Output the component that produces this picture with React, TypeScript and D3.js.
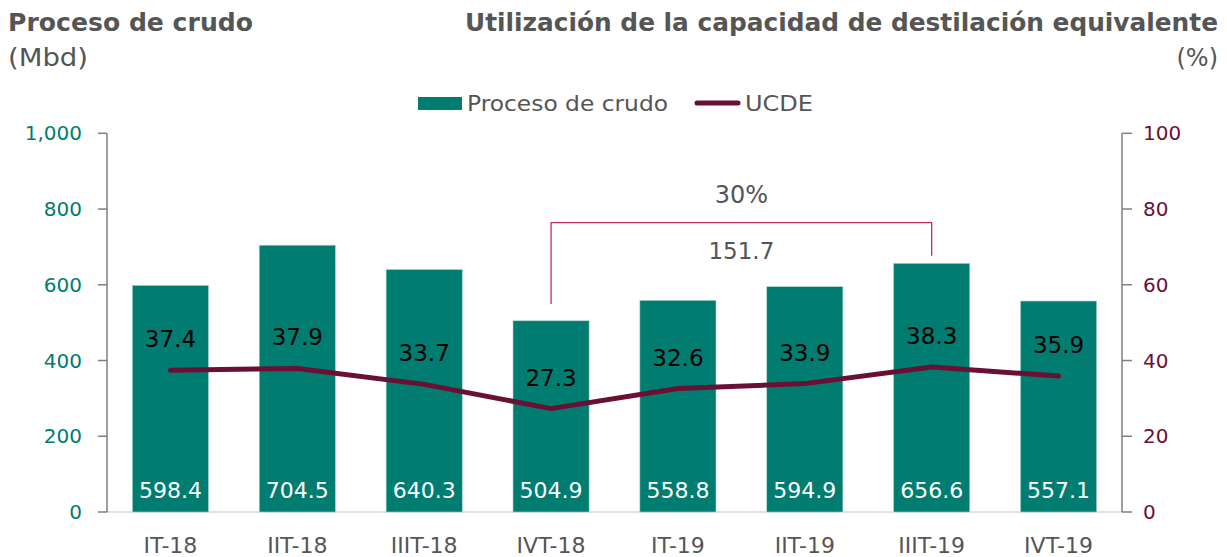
import React from "react";
import * as d3 from "d3";

const categories = ["IT-18", "IIT-18", "IIIT-18", "IVT-18", "IT-19", "IIT-19", "IIIT-19", "IVT-19"];
const proceso = [598.4, 704.5, 640.3, 504.9, 558.8, 594.9, 656.6, 557.1];
const ucde = [37.4, 37.9, 33.7, 27.3, 32.6, 33.9, 38.3, 35.9];
const leftTicks = [0, 200, 400, 600, 800, 1000];
const rightTicks = [0, 20, 40, 60, 80, 100];
const annotationFrom = "IVT-18";
const annotationTo = "IIIT-19";
const annotationPct = "30%";
const annotationDiff = "151.7";

const TEAL = "#007C70";
const MAROON = "#6B1035";
const GRAY = "#555555";
const FONT = "'DejaVu Sans', sans-serif";

export default function App() {
  const W = 1227, H = 557;
  const left = 107, right = 1122, top = 133.3, bottom = 512;
  const x = d3.scaleBand<string>().domain(categories).range([left, right]).paddingInner(0.4).paddingOuter(0.2);
  const yL = d3.scaleLinear().domain([0, 1000]).range([bottom, top]);
  const yR = d3.scaleLinear().domain([0, 100]).range([bottom, top]);
  const cx = (c: string) => (x(c) as number) + x.bandwidth() / 2;
  const line = d3.line<number>().x((_, i) => cx(categories[i])).y((d) => yR(d));
  const fmtL = d3.format(",");
  const ax1 = cx(annotationFrom), ax2 = cx(annotationTo);
  const bracketY = 222.7;
  return (
    <svg width={W} height={H} style={{ position: "absolute", left: 0, top: 0 }} fontFamily={FONT}>
      <text x={8} y={31} fontSize={24} fontWeight="bold" fill={GRAY} textLength={245} lengthAdjust="spacingAndGlyphs">Proceso de crudo</text>
      <text x={8} y={66} fontSize={24} fill={GRAY} textLength={80} lengthAdjust="spacingAndGlyphs">(Mbd)</text>
      <text x={465} y={31} fontSize={24} fontWeight="bold" fill={GRAY} textLength={753} lengthAdjust="spacingAndGlyphs">Utilización de la capacidad de destilación equivalente</text>
      <text x={1218} y={66} fontSize={24} fill={GRAY} textAnchor="end">(%)</text>

      {/* legend */}
      <rect x={418} y={97} width={44} height={13} fill={TEAL} />
      <text x={467} y={111} fontSize={21} fill={GRAY} textLength={201} lengthAdjust="spacingAndGlyphs">Proceso de crudo</text>
      <line x1={697} x2={738} y1={103} y2={103} stroke={MAROON} strokeWidth={5} strokeLinecap="round" />
      <text x={745} y={111} fontSize={21} fill={GRAY} textLength={68} lengthAdjust="spacingAndGlyphs">UCDE</text>

      {/* baseline */}
      <line x1={left} x2={right} y1={bottom} y2={bottom} stroke="#D9D9D9" strokeWidth={1.5} />

      {/* bars */}
      {categories.map((c, i) => (
        <g key={c}>
          <rect x={x(c)} y={yL(proceso[i])} width={x.bandwidth()} height={bottom - yL(proceso[i])} fill={TEAL} stroke="#A8D5CF" strokeWidth={0.6} />
          <text x={cx(c)} y={498} fontSize={22} fill="#fff" textAnchor="middle">{proceso[i].toFixed(1)}</text>
          <text x={cx(c)} y={553} fontSize={22} fill={GRAY} textAnchor="middle">{c}</text>
        </g>
      ))}

      {/* left axis */}
      <line x1={left} x2={left} y1={top} y2={bottom} stroke="#7F7F7F" strokeWidth={1.5} />
      {leftTicks.map((t) => (
        <g key={t}>
          <line x1={98} x2={left} y1={yL(t)} y2={yL(t)} stroke="#7F7F7F" strokeWidth={1.5} />
          <text x={82} y={yL(t) + 7} fontSize={20} fill={TEAL} textAnchor="end">{fmtL(t)}</text>
        </g>
      ))}
      {/* right axis */}
      <line x1={right} x2={right} y1={top} y2={bottom} stroke="#7F7F7F" strokeWidth={1.5} />
      {rightTicks.map((t) => (
        <g key={t}>
          <line x1={right} x2={right + 10} y1={yR(t)} y2={yR(t)} stroke="#7F7F7F" strokeWidth={1.5} />
          <text x={1143} y={yR(t) + 7} fontSize={20} fill={MAROON}>{t}</text>
        </g>
      ))}

      {/* line */}
      <path d={line(ucde) || ""} fill="none" stroke={MAROON} strokeWidth={5} strokeLinecap="round" strokeLinejoin="round" />
      {categories.map((c, i) => (
        <text key={c} x={cx(c)} y={yR(ucde[i]) - 23} fontSize={23} fill="#000" textAnchor="middle">{ucde[i].toFixed(1)}</text>
      ))}

      {/* annotation */}
      <path d={`M${ax1},304 V${bracketY} H${ax2} V255.7`} fill="none" stroke="#C0305A" strokeWidth={1.3} />
      <text x={(ax1 + ax2) / 2} y={203} fontSize={24} fill={GRAY} textAnchor="middle">{annotationPct}</text>
      <text x={(ax1 + ax2) / 2} y={259} fontSize={23} fill={GRAY} textAnchor="middle">{annotationDiff}</text>
    </svg>
  );
}
